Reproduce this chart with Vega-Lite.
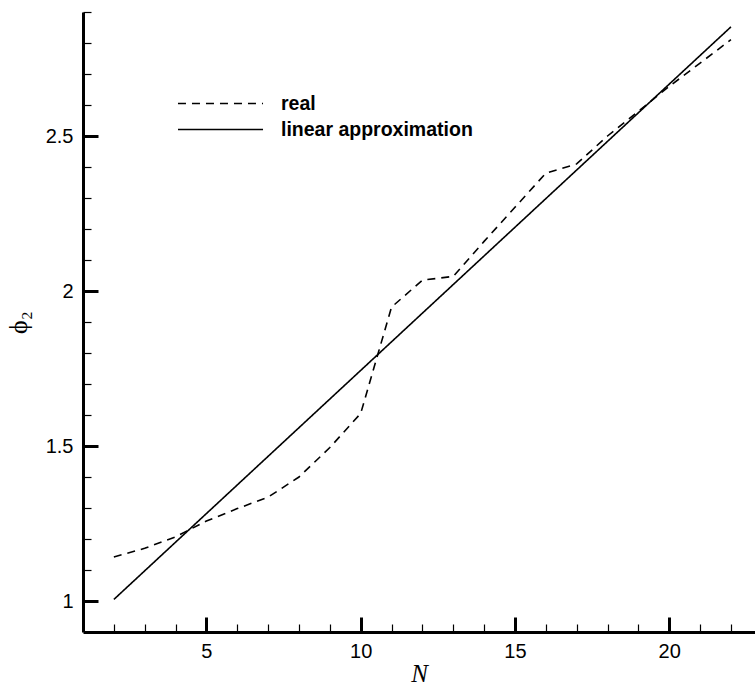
{
  "$schema": "https://vega.github.io/schema/vega-lite/v6.json",
  "autosize": {"type": "none"},
  "width": 672,
  "height": 620,
  "padding": {"left": 83, "top": 12, "right": 0, "bottom": 53},
  "background": "white",
  "config": {
    "view": {"stroke": null},
    "axis": {"labelFont": "Liberation Sans", "labelFontSize": 20, "labelColor": "black", "grid": false, "domainColor": "black", "tickColor": "black"}
  },
  "layer": [
    {
      "data": {"values": [
        {"N": 2, "phi": 1.142, "series": "real"},
        {"N": 3, "phi": 1.17, "series": "real"},
        {"N": 4, "phi": 1.207, "series": "real"},
        {"N": 5, "phi": 1.258, "series": "real"},
        {"N": 6, "phi": 1.298, "series": "real"},
        {"N": 7, "phi": 1.335, "series": "real"},
        {"N": 8, "phi": 1.4, "series": "real"},
        {"N": 9, "phi": 1.495, "series": "real"},
        {"N": 10, "phi": 1.605, "series": "real"},
        {"N": 11, "phi": 1.948, "series": "real"},
        {"N": 12, "phi": 2.035, "series": "real"},
        {"N": 13, "phi": 2.047, "series": "real"},
        {"N": 14, "phi": 2.16, "series": "real"},
        {"N": 15, "phi": 2.27, "series": "real"},
        {"N": 16, "phi": 2.38, "series": "real"},
        {"N": 17, "phi": 2.41, "series": "real"},
        {"N": 18, "phi": 2.5, "series": "real"},
        {"N": 19, "phi": 2.58, "series": "real"},
        {"N": 20, "phi": 2.66, "series": "real"},
        {"N": 21, "phi": 2.735, "series": "real"},
        {"N": 22, "phi": 2.811, "series": "real"}
      ]},
      "mark": {"type": "line", "color": "black", "strokeWidth": 1.6},
      "encoding": {
        "x": {"field": "N", "type": "quantitative", "scale": {"domain": [1, 22.78], "nice": false, "zero": false},
          "axis": {"orient": "bottom", "values": [5, 10, 15, 20], "tickSize": -15, "tickWidth": 3, "domainWidth": 3, "labelPadding": 24, "labelFlush": false,
            "title": "N", "titleFont": "Liberation Serif", "titleFontStyle": "italic", "titleFontWeight": "normal", "titleFontSize": 25, "titleColor": "black", "titlePadding": 0}},
        "y": {"field": "phi", "type": "quantitative", "scale": {"domain": [0.9, 2.9], "nice": false, "zero": false},
          "axis": {"orient": "left", "values": [1, 1.5, 2, 2.5], "format": "~g", "tickSize": -15, "tickWidth": 3, "domainWidth": 3, "labelPadding": 25, "labelFlush": false,
            "title": "ϕ₂", "titleFont": "Liberation Serif", "titleFontWeight": "normal", "titleFontSize": 26, "titleColor": "black", "titlePadding": 14}},
        "strokeDash": {"field": "series", "type": "nominal",
          "scale": {"domain": ["real", "linear approximation"], "range": [[8, 6], [1, 0]]},
          "legend": {"title": null, "orient": "none", "legendX": 126, "legendY": 80, "symbolType": "M-4,0H4", "symbolSize": 452, "symbolStrokeWidth": 1.6, "symbolStrokeColor": "black", "symbolFillColor": "transparent",
            "labelFont": "Liberation Sans", "labelFontWeight": "bold", "labelFontSize": 19.5, "labelColor": "black", "labelOffset": 49, "labelLimit": 0, "rowPadding": 5, "symbolOffset": 0}}
      }
    },
    {
      "data": {"values": [
        {"N": 2, "phi": 1.005, "series": "linear approximation"},
        {"N": 22, "phi": 2.852, "series": "linear approximation"}
      ]},
      "mark": {"type": "line", "color": "black", "strokeWidth": 1.6},
      "encoding": {
        "x": {"field": "N", "type": "quantitative",
          "axis": {"orient": "bottom", "values": [2, 3, 4, 6, 7, 8, 9, 11, 12, 13, 14, 16, 17, 18, 19, 21, 22], "tickSize": -8, "tickWidth": 1.2, "domain": false, "labels": false, "title": null}},
        "y": {"field": "phi", "type": "quantitative",
          "axis": {"orient": "left", "values": [1.1, 1.2, 1.3, 1.4, 1.6, 1.7, 1.8, 1.9, 2.1, 2.2, 2.3, 2.4, 2.6, 2.7, 2.8, 2.9], "tickSize": -8, "tickWidth": 1.2, "domain": false, "labels": false, "title": null}},
        "strokeDash": {"field": "series", "type": "nominal"}
      }
    }
  ],
  "resolve": {"axis": {"x": "independent", "y": "independent"}}
}
